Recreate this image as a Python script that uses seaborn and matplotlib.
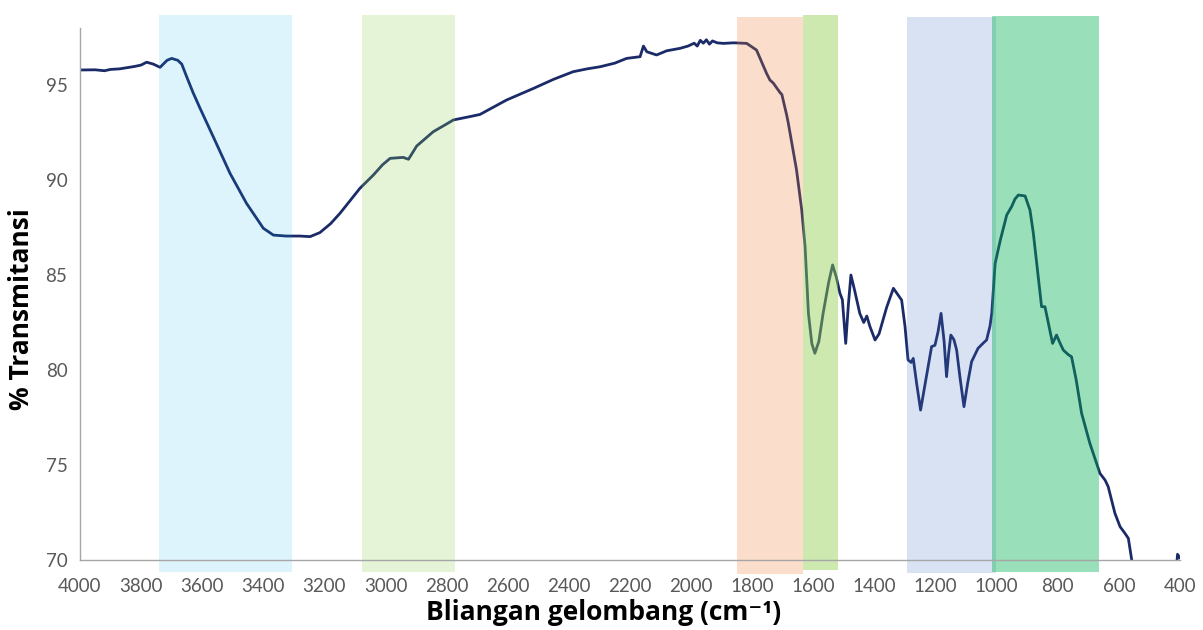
import matplotlib
matplotlib.use("Agg")
import matplotlib.pyplot as plt
import seaborn as sns
import pandas as pd
import numpy as np

# ---- data ----
wavenumber = [4000, 3950, 3920, 3900, 3870, 3850, 3820, 3800, 3782, 3760, 3738, 3715, 3700, 3680,
              3667, 3651, 3630, 3607, 3564, 3509, 3455, 3400, 3367, 3324, 3280, 3247, 3215,
              3180, 3149, 3084, 3040, 3010, 2985, 2942, 2925, 2898, 2844, 2800, 2778, 2720,
              2691, 2604, 2516, 2450, 2386, 2340, 2298, 2250, 2211, 2167, 2156, 2145, 2113,
              2080, 2036, 2010, 1990, 1980, 1970, 1960, 1950, 1940, 1930, 1915, 1895, 1860,
              1818, 1786, 1753, 1742, 1731, 1709, 1703, 1687, 1682, 1655,
              1638, 1627, 1616, 1605, 1595, 1582, 1568, 1550, 1537, 1525, 1513, 1505, 1494,
              1485, 1477, 1465, 1448, 1435, 1425, 1415, 1398, 1385, 1360, 1338, 1325, 1311,
              1300, 1290, 1280, 1273, 1262, 1249, 1235, 1213, 1202, 1192, 1182, 1172, 1164,
              1157, 1150, 1140, 1131, 1120, 1107, 1095, 1082, 1061, 1045, 1033, 1022, 1016,
              1005, 988, 967, 951, 940, 929, 907, 891, 880, 869, 853, 842, 830, 817, 804,
              795, 782, 765, 755, 740, 722, 695, 662, 645, 635, 613, 596, 580, 569, 558,
              550, 420, 408, 400]
transmittance = [95.79, 95.80, 95.75, 95.82, 95.85, 95.90, 95.98, 96.05, 96.20, 96.10, 95.93, 96.30,
                 96.40, 96.30, 96.10, 95.44, 94.60, 93.77, 92.28, 90.35, 88.77, 87.46, 87.10,
                 87.05, 87.05, 87.02, 87.23, 87.70, 88.25, 89.56, 90.26, 90.80, 91.14, 91.19,
                 91.09, 91.79, 92.54, 92.95, 93.16, 93.35, 93.45, 94.21, 94.82, 95.30, 95.70,
                 95.85, 95.96, 96.15, 96.40, 96.49, 97.05, 96.75, 96.58,
                 96.80, 96.93, 97.05, 97.20, 97.05, 97.35, 97.20, 97.38, 97.15, 97.32, 97.22, 97.19, 97.22,
                 97.19, 96.84, 95.61, 95.26, 95.10, 94.60, 94.50, 93.40, 93.00, 90.53, 88.42,
                 86.49, 82.98, 81.40, 80.88, 81.50, 82.98, 84.60, 85.53, 84.90, 84.04, 83.70,
                 81.40, 83.50, 85.00, 84.20, 82.98, 82.50, 82.84, 82.30, 81.58, 81.90, 83.30,
                 84.30, 84.00, 83.68, 82.30, 80.53, 80.40, 80.61, 79.30, 77.89, 79.20, 81.23,
                 81.30, 82.00, 82.98, 81.50, 79.65, 80.90, 81.84, 81.60, 81.05, 79.60, 78.07,
                 79.30, 80.44, 81.14, 81.40, 81.58, 82.30, 82.98, 85.61, 86.84, 88.16, 88.60,
                 89.00, 89.21, 89.16, 88.42, 87.20, 85.61, 83.33, 83.33, 82.40, 81.40, 81.84,
                 81.50, 81.05, 80.80, 80.70, 79.50, 77.72, 76.14, 74.56, 74.20, 73.86, 72.46,
                 71.75, 71.40, 71.14, 70.00, 68.00, 68.00, 70.30, 70.10]

# highlighted regions (wavenumber start, end)
band_start = [3741, 3077, 1850, 1634, 1295, 1015]
band_end = [3306, 2773, 1634, 1519, 1002, 665]
band_colors = ["#00B0F0", "#92D050", "#ED7D31", "#92D050", "#4472C4", "#00B050"]
band_alpha = [0.13, 0.23, 0.25, 0.45, 0.20, 0.40]
band_top_px = [15, 15, 17, 15, 17, 16]
band_bottom_px = [572, 572, 574, 570, 573, 572]

x_ticks = list(range(4000, 399, -200))
y_ticks = [70, 75, 80, 85, 90, 95]

df = pd.DataFrame({"wn": wavenumber, "T": transmittance})

sns.set_style("white")
plt.rcParams["font.family"] = ["Lato", "DejaVu Sans"]

W, H = 1203, 630
fig = plt.figure(figsize=(W / 100, H / 100), dpi=100)
ax_l, ax_r, ax_t, ax_b = 80, 1180, 28, 560
ax = fig.add_axes([ax_l / W, (H - ax_b) / H, (ax_r - ax_l) / W, (ax_b - ax_t) / H])

sns.lineplot(data=df, x="wn", y="T", ax=ax, color="#1B2B68", linewidth=2.0, zorder=2)

ax.set_xlim(4000, 400)
ax.set_ylim(70, 98)

ax_h = ax_b - ax_t
for s, e, c, a, tp, bp in zip(band_start, band_end, band_colors, band_alpha, band_top_px, band_bottom_px):
    ymin = (ax_b - bp) / ax_h
    ymax = (ax_b - tp) / ax_h
    ax.axvspan(s, e, ymin=ymin, ymax=ymax, color=c, alpha=a, lw=0, zorder=3, clip_on=False)

ax.set_xticks(x_ticks)
ax.set_yticks(y_ticks)
ax.tick_params(axis="both", which="major", labelsize=13.5, labelcolor="#595959",
               color="#A6A6A6", length=6, width=1, direction="out")
ax.tick_params(axis="y", pad=3)
ax.tick_params(axis="x", pad=7)

for side in ["top", "right"]:
    ax.spines[side].set_visible(False)
for side in ["left", "bottom"]:
    ax.spines[side].set_color("#A6A6A6")
    ax.spines[side].set_linewidth(1)
    ax.spines[side].set_zorder(4)

label_font = ["Open Sans", "DejaVu Sans"]
ax.set_xlabel("Bliangan gelombang (cm⁻¹)", fontsize=19, fontweight="bold", color="black",
              family=label_font)
ax.set_ylabel("% Transmitansi", fontsize=19, fontweight="bold", color="black",
              family=label_font)
ax.xaxis.set_label_coords((604 - ax_l) / (ax_r - ax_l), (ax_b - 613) / ax_h)
ax.yaxis.set_label_coords((22 - ax_l) / (ax_r - ax_l), (ax_b - 309) / ax_h)
ax.xaxis.label.set_va("center")
ax.yaxis.label.set_va("center")
ax.grid(False)

fig.savefig("out.png", dpi=100)
